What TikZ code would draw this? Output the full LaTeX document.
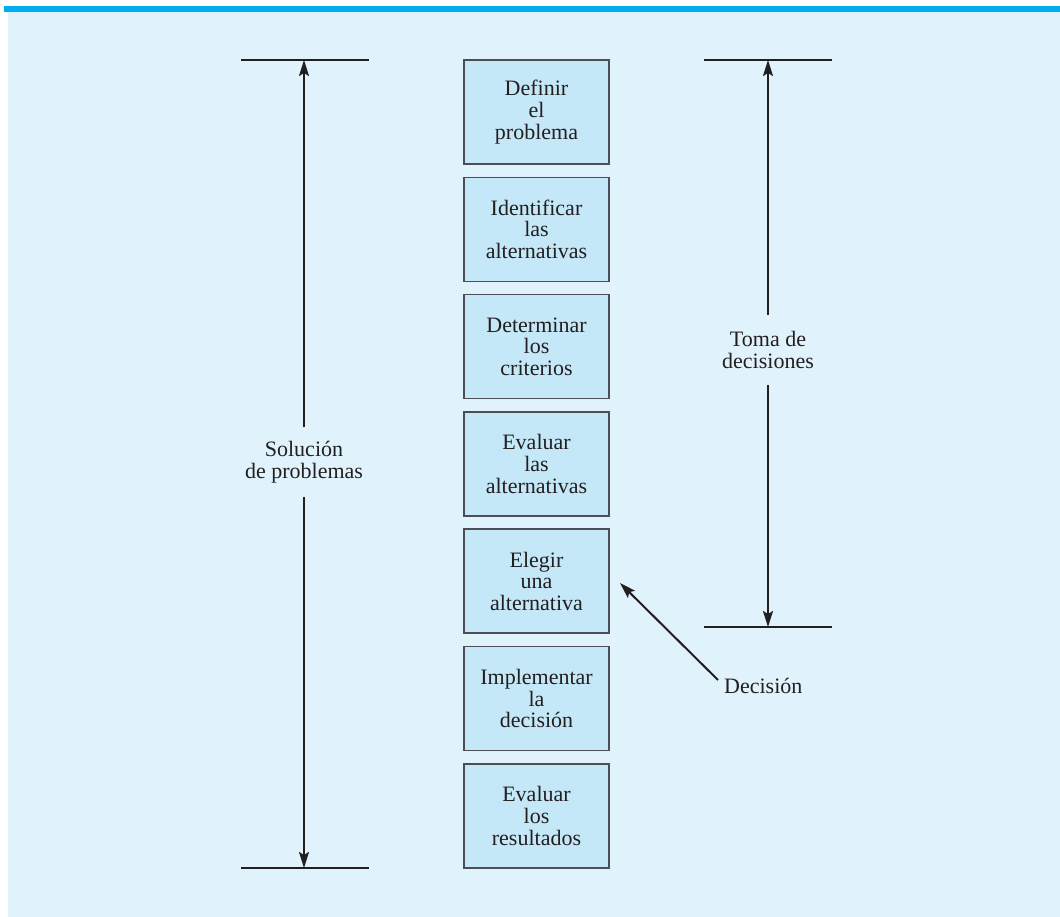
\documentclass[tikz,border=0pt]{standalone}
\usepackage{fontspec}
\setmainfont{Liberation Serif}
\usetikzlibrary{arrows.meta}
\definecolor{bgblue}{HTML}{E0F2FC}
\definecolor{boxblue}{HTML}{C5E8F8}
\definecolor{barblue}{HTML}{00AEEF}
\definecolor{ink}{HTML}{231F20}
\definecolor{boxline}{HTML}{4A4F55}
\tikzset{
  stepbox/.style={draw=boxline, line width=1.5pt, fill=boxblue, minimum width=145pt, minimum height=104pt, align=center, inner sep=0pt, text=ink, font=\fontsize{22}{21.7}\selectfont},
  lbl/.style={align=center, inner sep=0pt, text=ink, font=\fontsize{22}{21.7}\selectfont},
  bar/.style={draw=ink, line width=2pt},
  arr/.style={draw=ink, line width=2pt, -{Stealth[length=16pt,width=10pt,inset=3pt]}}
}
\begin{document}
\begin{tikzpicture}[x=1pt,y=-1pt]
\useasboundingbox (0,0) rectangle (1060,917);
\fill[white] (0,0) rectangle (1060,917);
\fill[bgblue] (8,12) rectangle (1060,917);
\fill[barblue] (4,6) rectangle (1060,12);
% boxes
\node[stepbox] (b1) at (536.5,112) {Definir\\el\\problema};
\node[stepbox] (b2) at (536.5,229.3) {Identificar\\las\\alternativas};
\node[stepbox] (b3) at (536.5,346.6) {Determinar\\los\\criterios};
\node[stepbox] (b4) at (536.5,463.9) {Evaluar\\las\\alternativas};
\node[stepbox] (b5) at (536.5,581.2) {Elegir\\una\\alternativa};
\node[stepbox] (b6) at (536.5,698.5) {Implementar\\la\\decisión};
\node[stepbox] (b7) at (536.5,815.8) {Evaluar\\los\\resultados};
% left bracket
\coordinate (lt1) at (241,60); \coordinate (lt2) at (369,60);
\coordinate (lb1) at (241,868); \coordinate (lb2) at (369,868);
\coordinate (ltm) at (304,60); \coordinate (lbm) at (304,868);
\draw[bar] (lt1) -- (lt2);
\draw[bar] (lb1) -- (lb2);
\node[lbl, minimum height=69pt] (sol) at (304,462) {Solución\\de problemas};
\draw[arr] (sol.north) -- (ltm);
\draw[arr] (sol.south) -- (lbm);
% right bracket
\coordinate (rt1) at (704,60); \coordinate (rt2) at (832,60);
\coordinate (rb1) at (704,627); \coordinate (rb2) at (832,627);
\coordinate (rtm) at (768,60); \coordinate (rbm) at (768,627);
\draw[bar] (rt1) -- (rt2);
\draw[bar] (rb1) -- (rb2);
\node[lbl, minimum height=70pt] (toma) at (768,350) {Toma de\\decisiones};
\draw[arr] (toma.north) -- (rtm);
\draw[arr] (toma.south) -- (rbm);
% decision pointer
\node[lbl, anchor=west] (dec) at (724,686) {Decisión};
\coordinate (dectip) at (620,583);
\path (dec.west) ++(-6,-6) coordinate (decstart);
\draw[arr] (decstart) -- (dectip);
\end{tikzpicture}
\end{document}
